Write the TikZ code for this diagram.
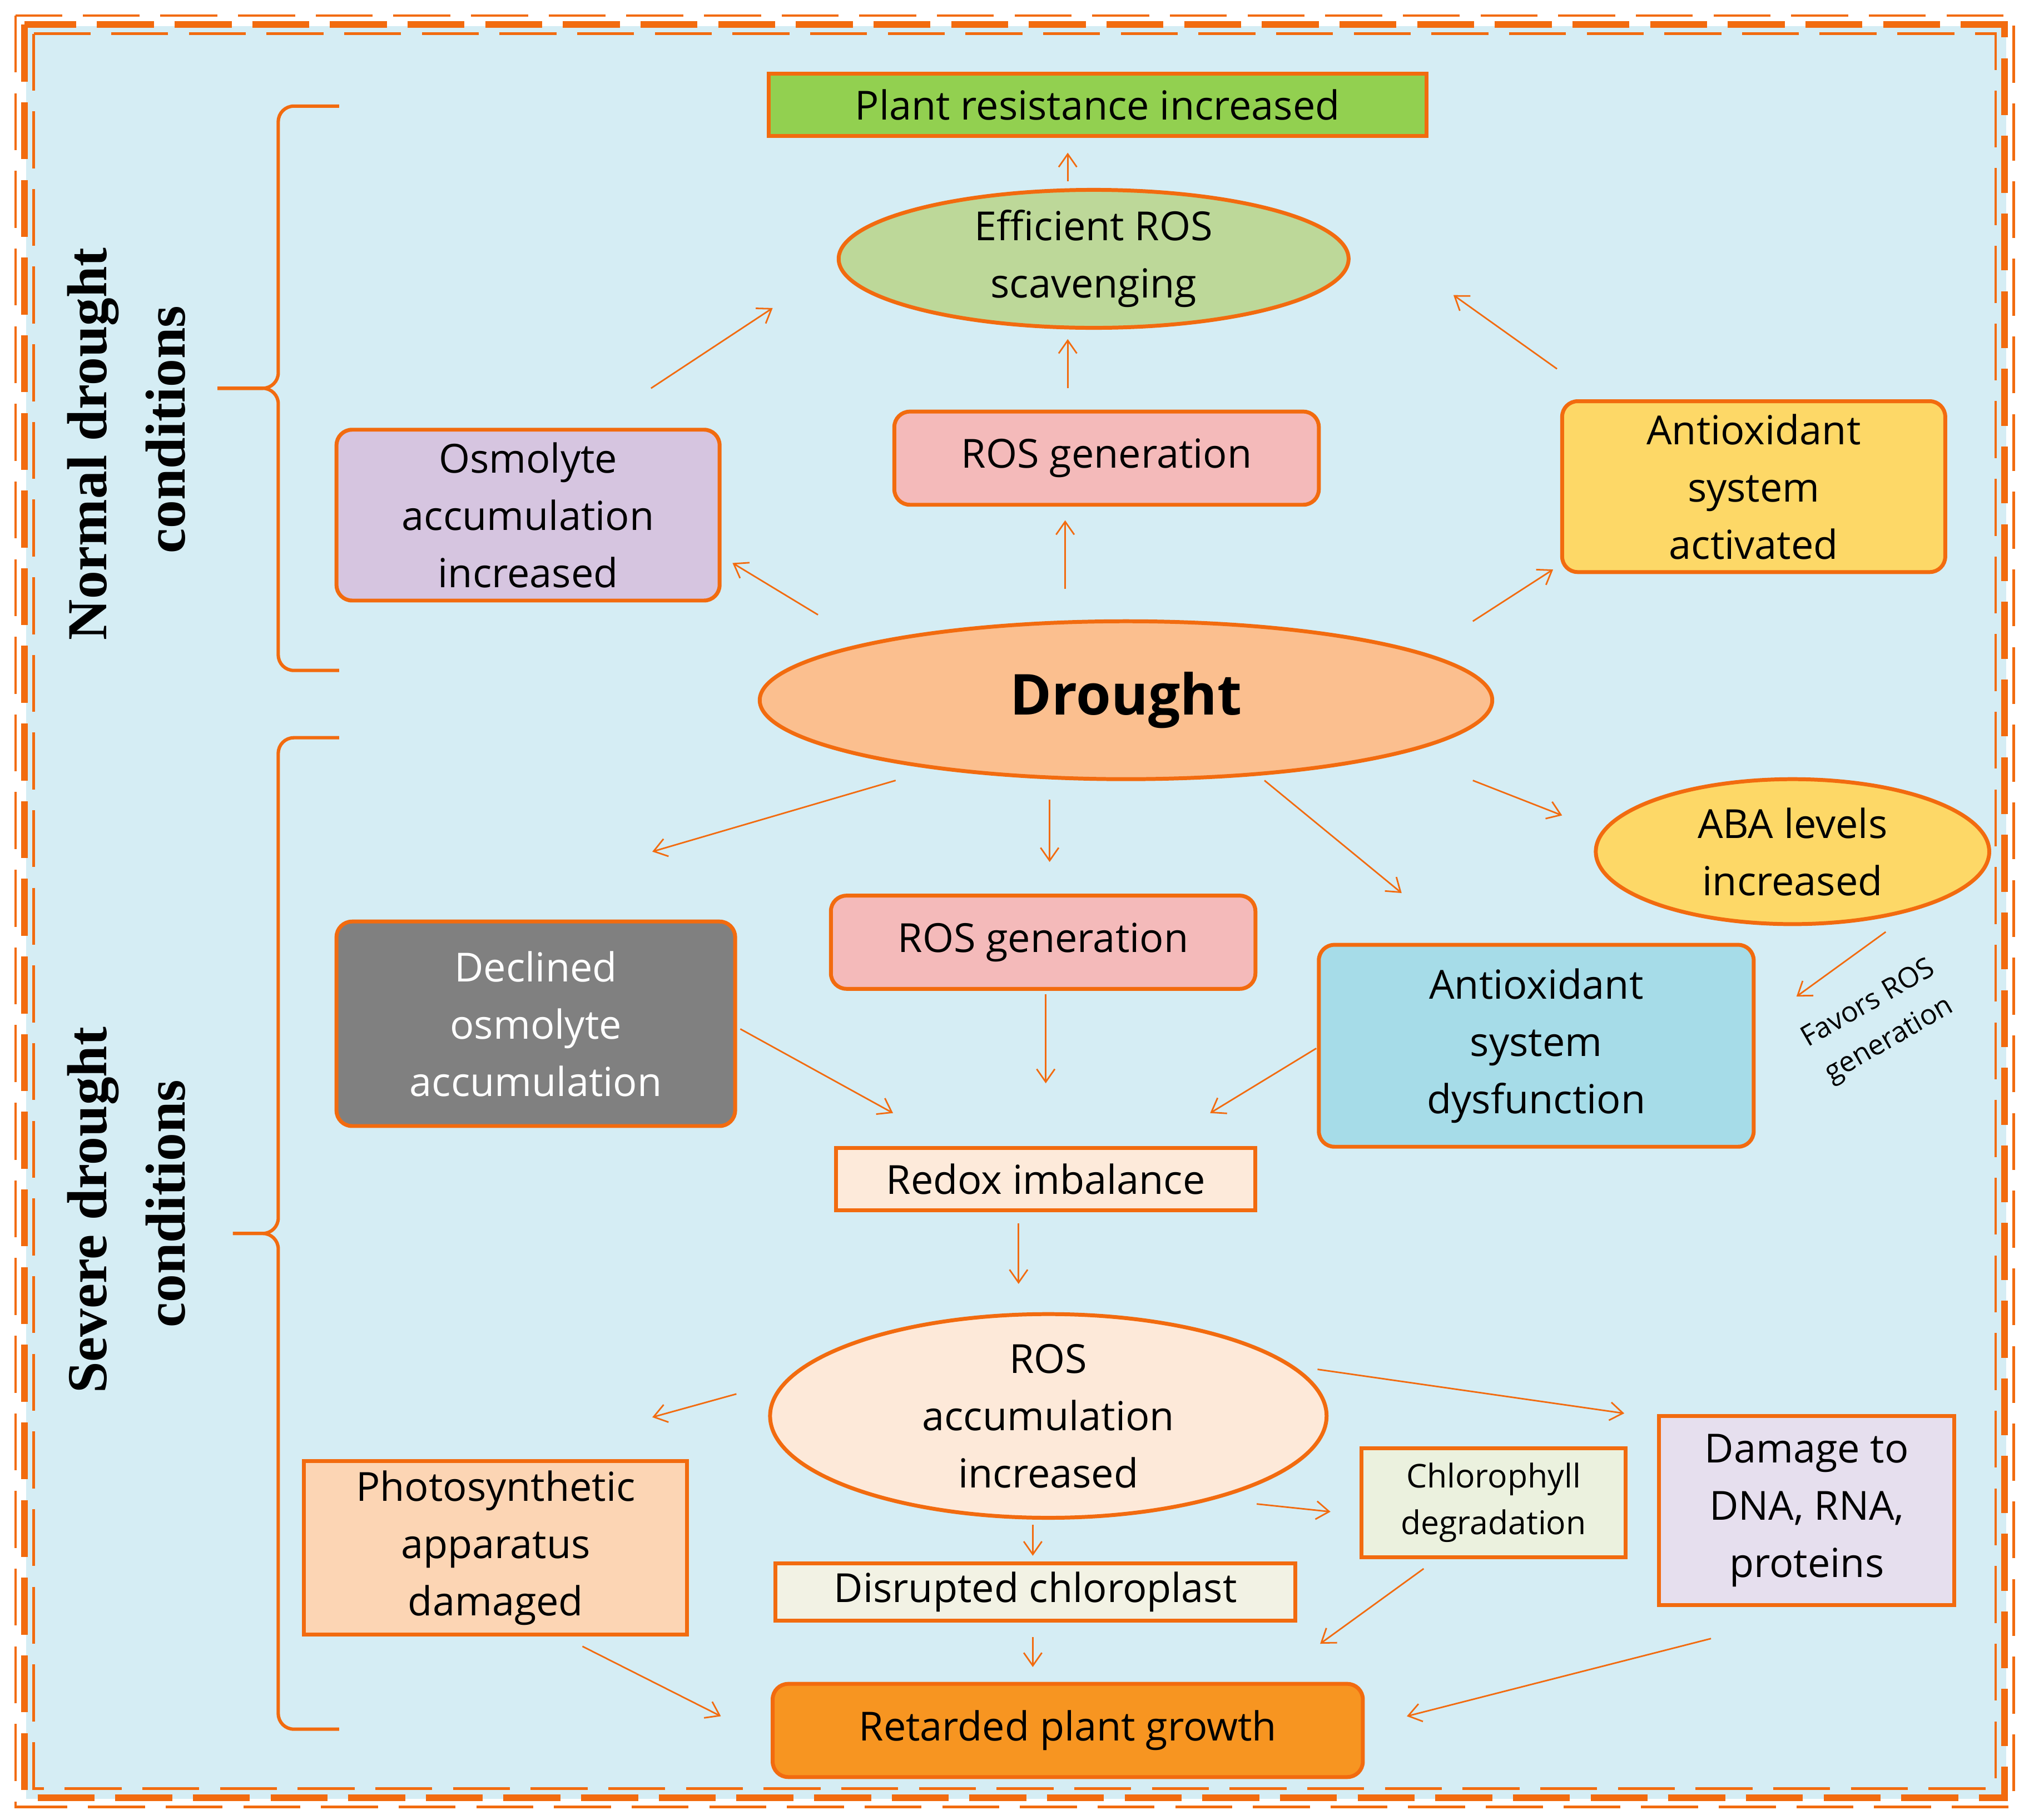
\documentclass[tikz,border=0pt]{standalone}
\usepackage{fontspec}
\setmainfont{Open Sans}
\newfontfamily\serifb{Liberation Serif}
\usetikzlibrary{arrows.meta,shapes.geometric,decorations.pathreplacing}
\definecolor{org}{HTML}{F26B0F}
\definecolor{bg}{HTML}{D5EDF4}
\tikzset{
 x=0.5mm,y=-0.5mm,
 bx/.style={draw=org,line width=1.5mm,align=center,inner sep=0pt,font=\fontsize{44}{63}\selectfont},
 rbx/.style={bx,rounded corners=6mm},
 el/.style={bx,ellipse},
 ar/.style={draw=org,line width=0.6mm,-{Straight Barb[length=5mm,width=7mm,line width=0.6mm]}},
 brace/.style={draw=org,line width=1.3mm,rounded corners=6mm},
 lab/.style={font=\serifb\bfseries\fontsize{62}{70}\selectfont,rotate=90},
 brd/.style={draw=org,dash pattern=on 22mm off 8mm}
}
\begin{document}
\begin{tikzpicture}
\useasboundingbox (0,0) rectangle (1560,1406);
\fill[bg] (20,20) rectangle (1550,1390);
\draw[brd,line width=1mm] (12,12) rectangle (1556,1396);
\draw[brd,line width=2.6mm] (19,19) rectangle (1549,1389);
\draw[brd,line width=1mm] (26,26) rectangle (1542,1382);
% nodes
\node[bx,fill={rgb,255:red,146;green,208;blue,80},minimum width=254mm,minimum height=24mm] (pr) at (848,81) {Plant resistance increased};
\node[el,fill={rgb,255:red,189;green,216;blue,153},minimum width=197mm,minimum height=45mm] (ers) at (845,200) {Efficient ROS\\scavenging};
\node[rbx,fill={rgb,255:red,244;green,186;blue,186},minimum width=164mm,minimum height=36mm] (rg1) at (855,354) {ROS generation};
\node[rbx,fill={rgb,255:red,214;green,197;blue,224},minimum width=148mm,minimum height=66mm] (osm) at (408,398) {Osmolyte\\accumulation\\increased};
\node[rbx,fill={rgb,255:red,253;green,216;blue,103},minimum width=148mm,minimum height=66mm] (aa) at (1355,376) {Antioxidant\\system\\activated};
\node[el,fill={rgb,255:red,251;green,191;blue,143},minimum width=283mm,minimum height=61mm,font=\bfseries\fontsize{62}{70}\selectfont] (dr) at (870,541) {Drought};
\node[el,fill={rgb,255:red,253;green,216;blue,103},minimum width=152mm,minimum height=56mm] (aba) at (1385,658) {ABA levels\\increased};
\node[rbx,fill={rgb,255:red,128;green,128;blue,128},text=white,minimum width=154mm,minimum height=79mm] (dec) at (414,791) {Declined\\osmolyte\\accumulation};
\node[rbx,fill={rgb,255:red,244;green,186;blue,186},minimum width=164mm,minimum height=36mm] (rg2) at (806,728) {ROS generation};
\node[rbx,fill={rgb,255:red,166;green,220;blue,232},minimum width=168mm,minimum height=78mm] (ad) at (1187,808) {Antioxidant\\system\\dysfunction};
\node[bx,fill={rgb,255:red,253;green,234;blue,218},minimum width=162mm,minimum height=24mm] (red) at (808,911) {Redox imbalance};
\node[el,fill={rgb,255:red,253;green,233;blue,217},minimum width=215mm,minimum height=73mm] (ra) at (810,1094) {ROS\\accumulation\\increased};
\node[bx,fill={rgb,255:red,252;green,213;blue,180},minimum width=148mm,minimum height=67mm] (ps) at (383,1196) {Photosynthetic\\apparatus\\damaged};
\node[bx,fill={rgb,255:red,235;green,241;blue,222},minimum width=102mm,minimum height=42mm,font=\fontsize{36}{51}\selectfont] (chl) at (1154,1161) {Chlorophyll\\degradation};
\node[bx,fill={rgb,255:red,230;green,223;blue,238},minimum width=114mm,minimum height=73mm] (dna) at (1396,1167) {Damage to\\DNA, RNA,\\proteins};
\node[bx,fill={rgb,255:red,242;green,242;blue,228},minimum width=201mm,minimum height=22mm] (dis) at (800,1230) {Disrupted chloroplast};
\node[rbx,fill={rgb,255:red,247;green,149;blue,33},minimum width=228mm,minimum height=36mm] (ret) at (825,1337) {Retarded plant growth};
\node[rotate=30,align=center,font=\fontsize{31}{46}\selectfont] (fav) at (1452,790) {Favors ROS\\generation};
% arrows
\coordinate (a1) at (825,140); \coordinate (a1e) at (825,118); \draw[ar] (a1) -- (a1e);
\coordinate (a2) at (825,300); \coordinate (a2e) at (825,262); \draw[ar] (a2) -- (a2e);
\coordinate (a3) at (503,300); \coordinate (a3e) at (597,238); \draw[ar] (a3) -- (a3e);
\coordinate (a4) at (1203,285); \coordinate (a4e) at (1123,228); \draw[ar] (a4) -- (a4e);
\coordinate (a5) at (823,455); \coordinate (a5e) at (823,402); \draw[ar] (a5) -- (a5e);
\coordinate (a6) at (632,475); \coordinate (a6e) at (566,435); \draw[ar] (a6) -- (a6e);
\coordinate (a7) at (1138,480); \coordinate (a7e) at (1200,440); \draw[ar] (a7) -- (a7e);
\coordinate (a8) at (692,603); \coordinate (a8e) at (504,658); \draw[ar] (a8) -- (a8e);
\coordinate (a9) at (811,618); \coordinate (a9e) at (811,666); \draw[ar] (a9) -- (a9e);
\coordinate (a10) at (977,603); \coordinate (a10e) at (1083,690); \draw[ar] (a10) -- (a10e);
\coordinate (a11) at (1138,603); \coordinate (a11e) at (1207,630); \draw[ar] (a11) -- (a11e);
\coordinate (a12) at (1457,720); \coordinate (a12e) at (1388,770); \draw[ar] (a12) -- (a12e);
\coordinate (a13) at (808,768); \coordinate (a13e) at (808,837); \draw[ar] (a13) -- (a13e);
\coordinate (a14) at (572,795); \coordinate (a14e) at (690,860); \draw[ar] (a14) -- (a14e);
\coordinate (a15) at (1017,810); \coordinate (a15e) at (935,860); \draw[ar] (a15) -- (a15e);
\coordinate (a16) at (787,945); \coordinate (a16e) at (787,992); \draw[ar] (a16) -- (a16e);
\coordinate (a17) at (569,1077); \coordinate (a17e) at (504,1095); \draw[ar] (a17) -- (a17e);
\coordinate (a18) at (1018,1058); \coordinate (a18e) at (1255,1092); \draw[ar] (a18) -- (a18e);
\coordinate (a19) at (971,1162); \coordinate (a19e) at (1028,1168); \draw[ar] (a19) -- (a19e);
\coordinate (a20) at (798,1178); \coordinate (a20e) at (798,1202); \draw[ar] (a20) -- (a20e);
\coordinate (a21) at (1100,1212); \coordinate (a21e) at (1020,1270); \draw[ar] (a21) -- (a21e);
\coordinate (a22) at (798,1265); \coordinate (a22e) at (798,1288); \draw[ar] (a22) -- (a22e);
\coordinate (a23) at (450,1272); \coordinate (a23e) at (557,1326); \draw[ar] (a23) -- (a23e);
\coordinate (a24) at (1322,1266); \coordinate (a24e) at (1087,1326); \draw[ar] (a24) -- (a24e);
% braces
\draw[brace] (262,82) -- (215,82) -- (215,300) -- (168,300);
\draw[brace] (168,300) -- (215,300) -- (215,518) -- (262,518);
\draw[brace] (262,570) -- (215,570) -- (215,953) -- (180,953);
\draw[brace] (180,953) -- (215,953) -- (215,1336) -- (262,1336);
\node[lab] (l1) at (72,343) {Normal drought};
\node[lab] (l2) at (128,332) {conditions};
\node[lab] (l3) at (72,935) {Severe drought};
\node[lab] (l4) at (128,930) {conditions};
\end{tikzpicture}
\end{document}
